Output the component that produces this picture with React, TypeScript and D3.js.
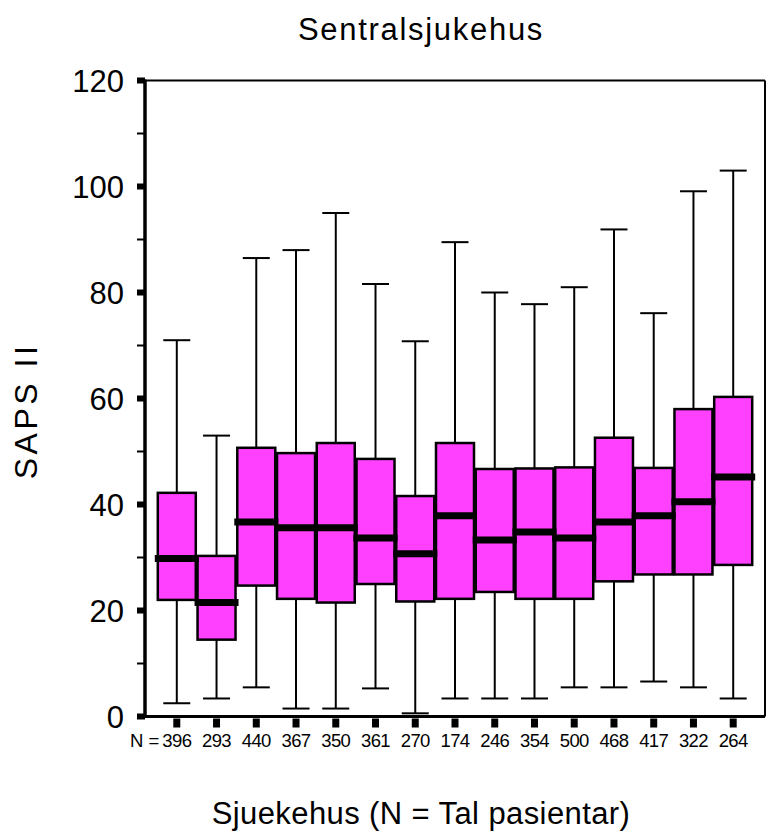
import React from "react";
import * as d3 from "d3";

// Patient counts per hospital (shown under each box as "N = ...")
const counts = [396, 293, 440, 367, 350, 361, 270, 174, 246, 354, 500, 468, 417, 322, 264];
// Box plot statistics of SAPS II per hospital
const whiskerHigh = [71, 53, 86.5, 88, 95, 81.6, 70.8, 89.5, 80, 77.8, 81, 91.9, 76.1, 99.1, 103];
const q3 = [42.2, 30.3, 50.7, 49.7, 51.6, 48.6, 41.6, 51.6, 46.7, 46.8, 47, 52.6, 46.9, 58, 60.3];
const median = [29.8, 21.5, 36.7, 35.6, 35.6, 33.7, 30.7, 37.9, 33.3, 34.8, 33.7, 36.7, 37.9, 40.5, 45.2];
const q1 = [22, 14.5, 24.7, 22.2, 21.5, 25, 21.7, 22.2, 23.5, 22.2, 22.2, 25.5, 26.8, 26.8, 28.6];
const whiskerLow = [2.5, 3.4, 5.5, 1.5, 1.5, 5.3, 0.6, 3.4, 3.4, 3.4, 5.5, 5.5, 6.6, 5.5, 3.4];

const majorTicks = [0, 20, 40, 60, 80, 100, 120];
const minorTicks = [10, 30, 50, 70, 90, 110];

const title = "Sentralsjukehus";
const yTitle = "SAPS II";
const xTitle = "Sjuekehus (N = Tal pasientar)";

const W = 768;
const H = 837;
const left = 145;
const right = 765;
const top = 80.5;
const bottom = 716.5;
const FONT = "'Liberation Sans', Arial, Helvetica, sans-serif";
const FILL = "#ff40ff";

export default function App() {
  const idx = counts.map((_, i) => i);
  const x = d3.scalePoint<number>().domain(idx).range([left, right]).padding(0.8);
  const y = d3.scaleLinear().domain([0, 120]).range([bottom, top]);
  const boxHalf = 19;
  const capHalf = 13.5;
  const medHalf = 22;

  return (
    <svg
      width={W}
      height={H}
      style={{ position: "absolute", left: 0, top: 0, background: "#fff" }}
      fontFamily={FONT}
    >
      <rect x={0} y={0} width={W} height={H} fill="#fff" />
      <text x={421} y={40} textAnchor="middle" fontSize={31} letterSpacing={1.7} fill="#000">
        {title}
      </text>

      {/* whiskers and boxes */}
      {idx.map((i) => {
        const cx = x(i)!;
        return (
          <g key={i} stroke="#000" strokeWidth={2}>
            <line x1={cx} x2={cx} y1={y(whiskerHigh[i])} y2={y(q3[i])} />
            <line x1={cx} x2={cx} y1={y(q1[i])} y2={y(whiskerLow[i])} />
            <line x1={cx - capHalf} x2={cx + capHalf} y1={y(whiskerHigh[i])} y2={y(whiskerHigh[i])} />
            <line x1={cx - capHalf} x2={cx + capHalf} y1={y(whiskerLow[i])} y2={y(whiskerLow[i])} />
            <rect
              x={cx - boxHalf}
              y={y(q3[i])}
              width={boxHalf * 2}
              height={y(q1[i]) - y(q3[i])}
              fill={FILL}
              strokeWidth={2.5}
            />
          </g>
        );
      })}
      {idx.map((i) => {
        const cx = x(i)!;
        return (
          <line
            key={"m" + i}
            x1={cx - medHalf}
            x2={cx + medHalf}
            y1={y(median[i])}
            y2={y(median[i])}
            stroke="#000"
            strokeWidth={7}
          />
        );
      })}

      {/* frame */}
      <line x1={left} x2={right} y1={top} y2={top} stroke="#000" strokeWidth={2} />
      <line x1={right} x2={right} y1={top} y2={bottom} stroke="#000" strokeWidth={2} />
      <line x1={left} x2={right} y1={bottom} y2={bottom} stroke="#000" strokeWidth={3} />
      <line x1={left} x2={left} y1={top - 1} y2={bottom + 1.5} stroke="#000" strokeWidth={3.5} />

      {/* y axis ticks */}
      {majorTicks.map((t) => (
        <g key={"t" + t}>
          <rect x={left - 8} y={y(t) - 3} width={8} height={6} fill="#000" />
          <text
            x={124}
            y={y(t)}
            dy="0.36em"
            textAnchor="end"
            fontSize={31}
            letterSpacing={0}
            fill="#000"
          >
            {t}
          </text>
        </g>
      ))}
      {minorTicks.map((t) => (
        <line key={"n" + t} x1={left - 8} x2={left} y1={y(t)} y2={y(t)} stroke="#000" strokeWidth={2} />
      ))}

      {/* x axis ticks and counts */}
      {idx.map((i) => (
        <g key={"x" + i}>
          <rect x={x(i)! - 3.5} y={bottom + 2} width={7} height={9} fill="#000" />
          <text x={x(i)!} y={747} textAnchor="middle" fontSize={18.5} letterSpacing={-0.6} fill="#000">
            {counts[i]}
          </text>
        </g>
      ))}
      <text x={130} y={747} fontSize={18.5} fill="#000">
        N =
      </text>

      <text
        transform={`translate(37, 411) rotate(-90)`}
        textAnchor="middle"
        fontSize={32}
        letterSpacing={3.5}
        fill="#000"
      >
        {yTitle}
      </text>
      <text x={421} y={824} textAnchor="middle" fontSize={31} letterSpacing={0.4} fill="#000">
        {xTitle}
      </text>
    </svg>
  );
}
